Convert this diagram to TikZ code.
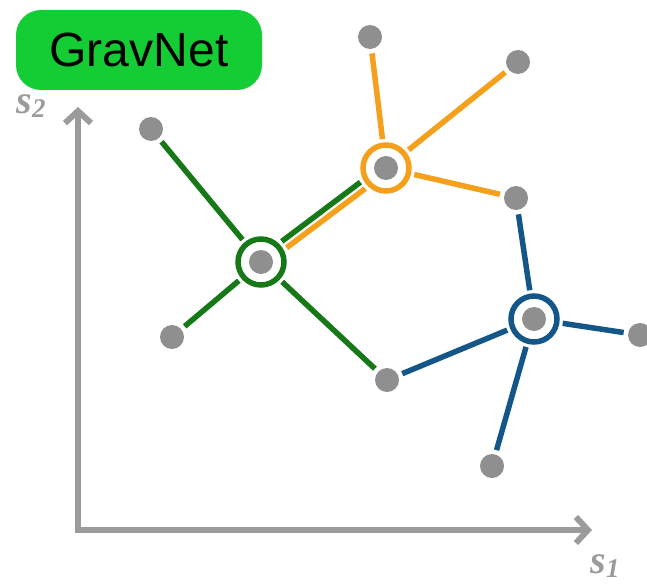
\documentclass[tikz,border=0pt]{standalone}
\usepackage{fontspec}
\setmainfont{Liberation Sans}
\newfontfamily\axisfont{Liberation Serif}
\usetikzlibrary{arrows.meta}

\definecolor{boxgreen}{RGB}{20,204,52}
\definecolor{greenline}{RGB}{22,120,22}
\definecolor{orangeline}{RGB}{245,160,28}
\definecolor{blueline}{RGB}{20,86,136}
\definecolor{dotgray}{RGB}{143,143,143}
\definecolor{axisgray}{RGB}{155,155,155}

\begin{document}
\begin{tikzpicture}[
    x=1pt, y=-1pt,
    titlebox/.style={rectangle, fill=boxgreen, rounded corners=25pt, minimum width=246pt, minimum height=80pt, font=\fontsize{48}{52}\selectfont},
    dot/.style={circle, fill=dotgray, minimum size=24pt, inner sep=0pt, outer sep=4.5pt},
    hub/.style={circle, draw=#1, line width=5.5pt, minimum size=46pt, inner sep=0pt, outer sep=6pt, fill=white,
        path picture={\fill[dotgray] (path picture bounding box.center) circle (12pt);}},
    edge/.style={line width=5.5pt, draw=#1},
    axis/.style={line width=6pt, draw=axisgray, line join=miter, {Straight Barb[length=12pt, width=26pt]}-{Straight Barb[length=12pt, width=26pt]}},
    axislabel/.style={text=axisgray, font=\axisfont\bfseries\itshape\fontsize{40}{44}\selectfont}
]
\useasboundingbox (0,0) rectangle (647,583);

% Title
\node[titlebox] (title) at (139,50) {GravNet};

% Axes
\coordinate (origin) at (78,530);
\coordinate (s2tip) at (78,107);
\coordinate (s1tip) at (592,530);
\draw[axis] (s2tip) -- (origin) -- (s1tip);
\node[axislabel] (s2) at (31,106) {s\raisebox{-0.1em}{\fontsize{27}{30}\selectfont 2}};
\node[axislabel] (s1) at (605,566) {s\raisebox{-0.1em}{\fontsize{27}{30}\selectfont 1}};

% Hubs
\node[hub=greenline] (ghub) at (261,262) {};
\node[hub=orangeline] (ohub) at (386,168) {};
\node[hub=blueline] (bhub) at (534,319) {};

% Points
\node[dot] (p1) at (151,129) {};
\node[dot] (p2) at (172,337) {};
\node[dot] (p3) at (387,380) {};
\node[dot] (p4) at (370,37) {};
\node[dot] (p5) at (518,62) {};
\node[dot] (p6) at (516,198) {};
\node[dot] (p7) at (640,335) {};
\node[dot] (p8) at (492,466) {};

% Green neighbours
\draw[edge=greenline] (ghub) -- (p1);
\draw[edge=greenline] (ghub) -- (p2);
\draw[edge=greenline] (ghub) -- (p3);
\draw[edge=greenline, transform canvas={shift={(-2.4pt,3.2pt)}}] (ghub) -- (ohub);

% Orange neighbours
\draw[edge=orangeline] (ohub) -- (p4);
\draw[edge=orangeline] (ohub) -- (p5);
\draw[edge=orangeline] (ohub) -- (p6);
\draw[edge=orangeline, transform canvas={shift={(2.4pt,-3.2pt)}}] (ohub) -- (ghub);

% Blue neighbours
\draw[edge=blueline] (bhub) -- (p6);
\draw[edge=blueline] (bhub) -- (p7);
\draw[edge=blueline] (bhub) -- (p8);
\draw[edge=blueline] (bhub) -- (p3);

\end{tikzpicture}
\end{document}
